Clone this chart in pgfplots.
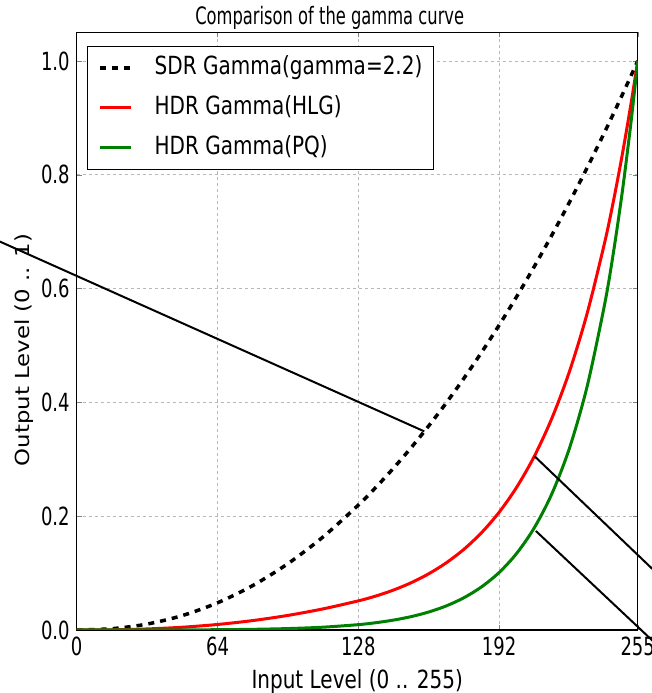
\documentclass[border=0pt]{standalone}
\usepackage{fontspec}
\setmainfont{DejaVu Sans}
\newfontfamily\tickfont{DejaVu Sans}[FakeStretch=0.72]
\newfontfamily\legfont{DejaVu Sans}[FakeStretch=0.80]
\newfontfamily\titlefont{DejaVu Sans}[FakeStretch=0.68]
\usepackage{pgfplots}
\usepackage{pgfplotstable}
\pgfplotsset{compat=1.18}

% input level vs. normalised output for the three transfer curves
\pgfplotstableread{
x   sdr     hlg     pq
0   0       0       0
16  0.00226 0.00035 0.00001
32  0.01040 0.00184 0.00006
48  0.02537 0.00486 0.00020
64  0.04778 0.00970 0.00052
80  0.07806 0.01656 0.00119
96  0.11658 0.02566 0.00250
112 0.16364 0.03714 0.00494
128 0.21952 0.05118 0.00940
136 0.25084 0.05975 0.01284
144 0.28445 0.07022 0.01741
152 0.32036 0.08305 0.02349
160 0.35865 0.09879 0.03160
168 0.39921 0.11811 0.04236
176 0.44232 0.14183 0.05670
184 0.48777 0.17098 0.07575
192 0.53564 0.20684 0.10101
200 0.58597 0.25098 0.13474
208 0.63879 0.30530 0.17964
216 0.69408 0.37220 0.23955
224 0.75189 0.45463 0.31980
232 0.81224 0.55618 0.42785
240 0.87514 0.68138 0.57316
244 0.90755 0.75448 0.66430
248 0.94060 0.83572 0.77029
252 0.97430 0.92588 0.89393
255 1       1       1
}\gammadata

\definecolor{mplgreen}{HTML}{008000}

\begin{document}
\begin{tikzpicture}
\begin{axis}[
    scale only axis,
    width=280.5pt, height=298.75pt,
    xmin=0, xmax=255,
    ymin=0, ymax=1.05,
    xtick={0,64,128,192,255},
    ytick={0,0.2,0.4,0.6,0.8,1.0},
    yticklabel style={/pgf/number format/.cd, fixed, fixed zerofill, precision=1},
    /pgf/number format/assume math mode=true,
    tick label style={font=\tickfont\fontsize{12.5}{15}\selectfont},
    tick align=inside,
    major tick length=2.5pt,
    axis line style={line width=0.6pt},
    grid=major,
    major grid style={black!28, line width=0.4pt, dash pattern=on 1.5pt off 1.5pt},
    title={Comparison of the gamma curve},
    title style={font=\titlefont\fontsize{12}{14}\selectfont,
        at={(axis description cs:0.451,1.0126)}, anchor=base, yshift=-6pt, inner sep=0pt},
    xlabel={Input Level (0 .. 255)},
    xlabel style={font=\legfont\fontsize{12.5}{15}\selectfont,
        at={(axis description cs:0.5,-0.0971)}, anchor=base, inner sep=0pt},
    ylabel={Output Level (0 .. 1)},
    ylabel style={font=\fontsize{11.4}{14}\selectfont,
        at={(axis description cs:-0.0937,0.4686)}, anchor=center, inner sep=0pt, yscale=0.85},
    legend cell align=left,
    legend image code/.code={\draw[#1] (0pt,0pt) -- (15.5pt,0pt);},
    legend style={at={(axis description cs:0,1)}, anchor=north west,
        xshift=5pt, yshift=-6.6pt,
        draw=black, line width=0.5pt, fill=white,
        inner xsep=5.5pt, inner ysep=4.85pt, row sep=8pt,
        font=\legfont\fontsize{12.5}{15}\selectfont,
        nodes={inner sep=0pt, text height=9.5pt, text depth=2.5pt},
        /tikz/every odd column/.style={column sep=11pt}},
]
\addplot[black, line width=1.75pt, dash pattern=on 3pt off 3pt, smooth] table[x=x, y=sdr] {\gammadata};
\addlegendentry{SDR Gamma(gamma=2.2)}
\addplot[red, line width=1.5pt, smooth] table[x=x, y=hlg] {\gammadata};
\addlegendentry{HDR Gamma(HLG)}
\addplot[mplgreen, line width=1.5pt, smooth] table[x=x, y=pq] {\gammadata};
\addlegendentry{HDR Gamma(PQ)}

\coordinate (bl) at (rel axis cs:0,0);
\coordinate (tr) at (rel axis cs:1,1);
% pointer lines that run out of the frame
\coordinate (a1) at (axis cs:158,0.349);
\coordinate (a2) at (axis cs:-45,0.700);
\coordinate (b1) at (axis cs:208.2,0.305);
\coordinate (b2) at (axis cs:275,0.058);
\coordinate (c1) at (axis cs:208.7,0.174);
\coordinate (c2) at (axis cs:275,-0.067);
\end{axis}
\draw[black, line width=1pt] (a1) -- (a2);
\draw[black, line width=1pt] (b1) -- (b2);
\draw[black, line width=1pt] (c1) -- (c2);
\pgfresetboundingbox
\path[use as bounding box] ([shift={(-38.35pt,-31.5pt)}]bl) rectangle ([shift={(7pt,16.25pt)}]tr);
\end{tikzpicture}
\end{document}
